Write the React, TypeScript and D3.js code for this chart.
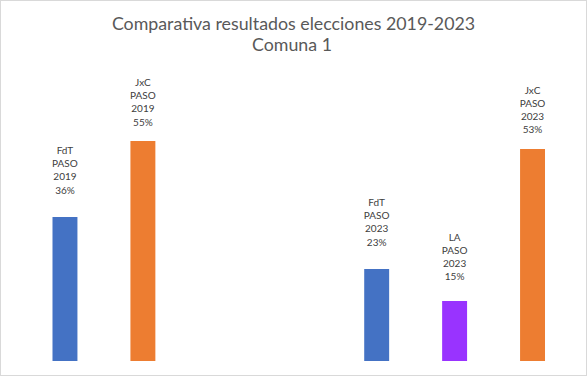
import React from "react";
import * as d3 from "d3";

const slots = ["s1", "s2", "s3", "s4", "s5", "s6", "s7"];
const parties = ["FdT", "JxC", "", "", "FdT", "LA", "JxC"];
const years = ["2019", "2019", "", "", "2023", "2023", "2023"];
const values: (number | null)[] = [36, 55, null, null, 23, 15, 53];
const barColors = ["#4472C4", "#ED7D31", "", "", "#4472C4", "#9933FF", "#ED7D31"];
const labelLift = [23.5, 15.5, 0, 0, 23.5, 21, 16];

const W = 587;
const H = 376;

export default function App() {
  const x = d3
    .scaleBand<string>()
    .domain(slots)
    .range([26, 571.5])
    .paddingInner(0.68)
    .paddingOuter(0.34);
  const y = d3.scaleLinear().domain([0, 80]).range([361, 41]);
  const font = "Lato, 'Open Sans', sans-serif";
  const lineH = 13.1;

  return (
    <svg
      width={W}
      height={H}
      style={{ position: "fixed", top: 0, left: 0, background: "#fff" }}
    >
      <rect x={0} y={0} width={W} height={H} fill="#fff" />
      <rect x={0.5} y={0.5} width={W - 1} height={H - 1} fill="none" stroke="#d9d9d9" />
      <text x={293.5} y={29.5} textAnchor="middle" fontFamily={font} fontSize={17.8} fill="#595959">
        Comparativa resultados elecciones 2019-2023
      </text>
      <text x={292} y={51} textAnchor="middle" fontFamily={font} fontSize={17.8} fill="#595959">
        Comuna 1
      </text>
      {slots.map((s, i) => {
        const v = values[i];
        if (v == null) return null;
        const x0 = x(s)!;
        const bw = x.bandwidth();
        const top = y(v);
        const cx = x0 + bw / 2;
        const lines = [parties[i], "PASO", years[i], `${v}%`];
        const baseLast = top - labelLift[i];
        return (
          <g key={s}>
            <rect x={x0} y={top} width={bw} height={y(0) - top} fill={barColors[i]} />
            {lines.map((t, j) => (
              <text
                key={j}
                x={cx}
                y={baseLast - (lines.length - 1 - j) * lineH}
                textAnchor="middle"
                fontFamily={font}
                fontSize={10}
                fill="#404040"
              >
                {t}
              </text>
            ))}
          </g>
        );
      })}
    </svg>
  );
}
